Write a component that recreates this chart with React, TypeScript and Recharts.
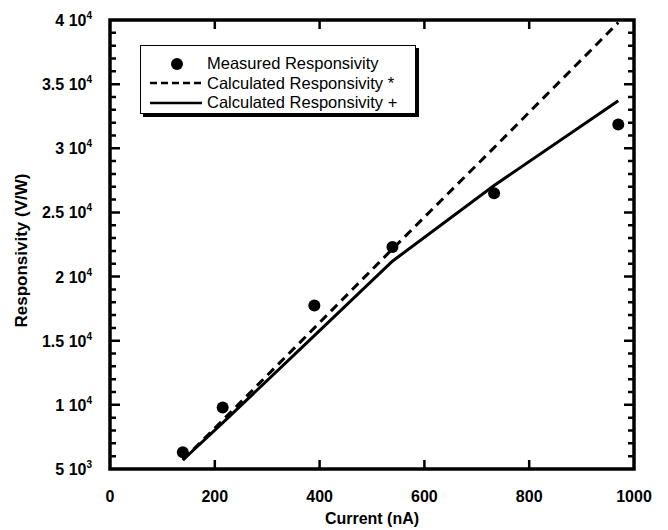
import { ComposedChart, Line, Scatter, XAxis, YAxis, ReferenceArea } from 'recharts'

const current = [139, 215, 390, 539, 733, 970]
const measured = [6300, 9800, 17750, 22300, 26500, 31850]
const calcStar = [5700, 8800, 16000, 22150, 30050, 39800]
const calcPlus = [5700, 8600, 15400, 21200, 27100, 33700]

const xTicks = [0, 200, 400, 600, 800, 1000]
const yMajorTicks = [5000, 10000, 15000, 20000, 25000, 30000, 35000, 40000]
const yMantissas = ['5', '1', '1.5', '2', '2.5', '3', '3.5', '4']
const yExponents = ['3', '4', '4', '4', '4', '4', '4', '4']

// minor ticks every 1000 between the labelled ones
const yAllTicks: number[] = []
for (let v = yMajorTicks[0]; v <= yMajorTicks[yMajorTicks.length - 1]; v += 1000) yAllTicks.push(v)

const data = current.map((c, i) => ({
  current: c,
  measured: measured[i],
  star: calcStar[i],
  plus: calcPlus[i],
}))

const FONT = '"Liberation Sans", Arial, Helvetica, sans-serif'
const W = 668
const H = 530
const M = { top: 20, right: 34, bottom: 0, left: 10 }
const Y_AXIS_W = 100
const X_AXIS_H = 61
const PLOT_W = W - M.left - M.right - Y_AXIS_W
const PLOT_H = H - M.top - M.bottom - X_AXIS_H

function LeftTick({ x, y, payload }: any) {
  const v = payload.value
  const i = yMajorTicks.indexOf(v)
  const major = i >= 0
  const len = major ? 10 : 6
  const end = v === 5000 || v === 40000
  return (
    <g>
      {!end && <path d={`M${x},${y}h${len}M${x + PLOT_W},${y}h${-len}`} stroke="#000" strokeWidth={2.5} fill="none" />}
      {major && (
        <text x={x - 18} y={y + 6} textAnchor="end" fontFamily={FONT} fontWeight="bold" fontSize={16} fill="#000">
          {yMantissas[i]} 10
          <tspan dy={-7} fontSize={10}>{yExponents[i]}</tspan>
        </text>
      )}
    </g>
  )
}

function BottomTick({ x, y, payload }: any) {
  const v = payload.value
  const end = v === 0 || v === 1000
  return (
    <g>
      {!end && <path d={`M${x},${y}v-9M${x},${y - PLOT_H}v9`} stroke="#000" strokeWidth={2.5} fill="none" />}
      <text x={x} y={y + 33} textAnchor="middle" fontFamily={FONT} fontWeight="bold" fontSize={16} fill="#000">
        {v}
      </text>
    </g>
  )
}

function Dot({ cx, cy }: any) {
  return <circle cx={cx} cy={cy} r={6} fill="#000" />
}

function LegendBox() {
  const row = { display: 'flex', alignItems: 'center', height: 19.5 }
  const label = { fontFamily: FONT, fontSize: 16.5, color: '#000', marginLeft: 5, whiteSpace: 'nowrap' as const }
  return (
    <div
      style={{
        position: 'absolute',
        left: 140,
        top: 45,
        width: 276,
        height: 69,
        border: '1.5px solid #000',
        boxShadow: '3px 3px 0 #000',
        background: '#fff',
        padding: '8px 0 0 9px',
        boxSizing: 'border-box',
      }}
    >
      <div style={row}>
        <svg width={52} height={14}>
          <circle cx={27} cy={7} r={6} fill="#000" />
        </svg>
        <span style={label}>Measured Responsivity</span>
      </div>
      <div style={row}>
        <svg width={52} height={14}>
          <path d="M0,7H52" stroke="#000" strokeWidth={2.5} strokeDasharray="7 4" />
        </svg>
        <span style={label}>Calculated Responsivity *</span>
      </div>
      <div style={row}>
        <svg width={52} height={14}>
          <path d="M0,7H52" stroke="#000" strokeWidth={2.5} />
        </svg>
        <span style={label}>Calculated Responsivity +</span>
      </div>
    </div>
  )
}

export default function App() {
  return (
    <div style={{ position: 'absolute', left: 0, top: 0, width: W, height: H, background: '#fff' }}>
      <div style={{ position: 'relative', width: W, height: H }}>
        <ComposedChart width={W} height={H} data={data} margin={M}>
          <XAxis
            xAxisId="bottom"
            dataKey="current"
            type="number"
            domain={[0, 1000]}
            ticks={xTicks}
            interval={0}
            height={X_AXIS_H}
            tickSize={0}
            tickMargin={0}
            axisLine={false}
            tickLine={false}
            tick={<BottomTick />}
            label={{
              content: ({ viewBox }: any) => (
                <text
                  x={viewBox.x + viewBox.width / 2}
                  y={viewBox.y + 55}
                  textAnchor="middle"
                  fontFamily={FONT}
                  fontWeight="bold"
                  fontSize={16}
                  fill="#000"
                >
                  Current (nA)
                </text>
              ),
            }}
          />
          <YAxis
            yAxisId="left"
            type="number"
            domain={[5000, 40000]}
            ticks={yAllTicks}
            interval={0}
            width={Y_AXIS_W}
            tickSize={0}
            tickMargin={0}
            axisLine={false}
            tickLine={false}
            tick={<LeftTick />}
            label={{
              content: ({ viewBox }: any) => {
                const cx = viewBox.x + 11.5
                const cy = viewBox.y + viewBox.height / 2 + 6
                return (
                  <text
                    x={cx}
                    y={cy}
                    transform={`rotate(-90 ${cx} ${cy})`}
                    textAnchor="middle"
                    dominantBaseline="central"
                    fontFamily={FONT}
                    fontWeight="bold"
                    fontSize={17}
                    fill="#000"
                  >
                    Responsivity (V/W)
                  </text>
                )
              },
            }}
          />
          <ReferenceArea
            xAxisId="bottom"
            yAxisId="left"
            x1={0}
            x2={1000}
            y1={5000}
            y2={40000}
            fill="none"
            stroke="#000"
            strokeWidth={3.5}
            ifOverflow="visible"
          />
          <Line
            xAxisId="bottom"
            yAxisId="left"
            dataKey="star"
            type="linear"
            stroke="#000"
            strokeWidth={3}
            strokeDasharray="9 6"
            dot={false}
            isAnimationActive={false}
          />
          <Line
            xAxisId="bottom"
            yAxisId="left"
            dataKey="plus"
            type="linear"
            stroke="#000"
            strokeWidth={3}
            dot={false}
            isAnimationActive={false}
          />
          <Scatter
            xAxisId="bottom"
            yAxisId="left"
            dataKey="measured"
            fill="#000"
            shape={<Dot />}
            isAnimationActive={false}
          />
        </ComposedChart>
        <LegendBox />
      </div>
    </div>
  )
}
